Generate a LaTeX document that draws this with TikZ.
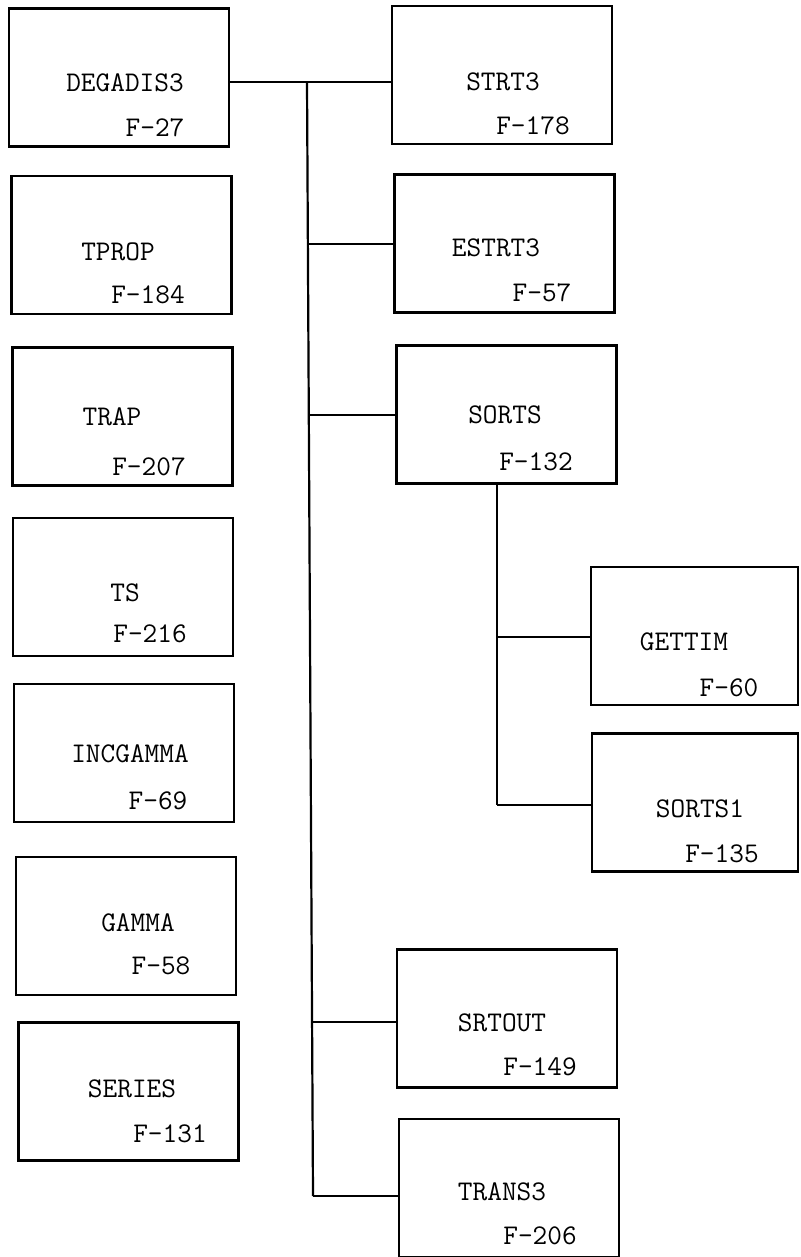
\documentclass[tikz,border=0pt]{standalone}
\usepackage{fontspec}
\usepackage{tikz}

\begin{document}
\begin{tikzpicture}[x=1pt,y=-1pt,
  rbox/.style={draw,line width=2.2pt,minimum width=220pt,minimum height=138pt,inner sep=0pt},
  lbl/.style={font=\ttfamily\fontsize{28.5}{34}\selectfont,inner sep=0pt},
  link/.style={line width=2.2pt}]
  \useasboundingbox (0,0) rectangle (800,1257);

  % Left column
  \node[rbox] (degadis) at (119,77.5) {};
  \node[lbl] (degadisN) at (125,83) {DEGADIS3};
  \node[lbl] (degadisF) at (155,128) {F-27};

  \node[rbox] (tprop) at (121.5,245) {};
  \node[lbl] (tpropN) at (118,252) {TPROP};
  \node[lbl] (tpropF) at (148,295) {F-184};

  \node[rbox] (trap) at (122.5,416.5) {};
  \node[lbl] (trapN) at (112,417) {TRAP};
  \node[lbl] (trapF) at (149,467) {F-207};

  \node[rbox] (ts) at (123,587) {};
  \node[lbl] (tsN) at (125,593) {TS};
  \node[lbl] (tsF) at (150,634) {F-216};

  \node[rbox] (incgamma) at (124,753) {};
  \node[lbl] (incgammaN) at (130,754) {INCGAMMA};
  \node[lbl] (incgammaF) at (158,801) {F-69};

  \node[rbox] (gamma) at (126,926) {};
  \node[lbl] (gammaN) at (138,923) {GAMMA};
  \node[lbl] (gammaF) at (161,966) {F-58};

  \node[rbox] (series) at (128.5,1091.5) {};
  \node[lbl] (seriesN) at (132,1089) {SERIES};
  \node[lbl] (seriesF) at (170,1134) {F-131};

  % Right column
  \node[rbox] (strt) at (502,75) {};
  \node[lbl] (strtN) at (503,82) {STRT3};
  \node[lbl] (strtF) at (533,126) {F-178};

  \node[rbox] (estrt) at (504.5,243.5) {};
  \node[lbl] (estrtN) at (496,248) {ESTRT3};
  \node[lbl] (estrtF) at (542,293) {F-57};

  \node[rbox] (sorts) at (506.5,414.5) {};
  \node[lbl] (sortsN) at (505,415) {SORTS};
  \node[lbl] (sortsF) at (536,462) {F-132};

  \node[rbox] (srtout) at (507,1018.5) {};
  \node[lbl] (srtoutN) at (502,1023) {SRTOUT};
  \node[lbl] (srtoutF) at (540,1067) {F-149};

  \node[rbox] (trans) at (509,1188) {};
  \node[lbl] (transN) at (502,1192) {TRANS3};
  \node[lbl] (transF) at (540,1236) {F-206};

  % Called from SORTS
  \node[rbox,minimum width=207pt] (gettim) at (694.5,636) {};
  \node[lbl] (gettimN) at (684,642) {GETTIM};
  \node[lbl] (gettimF) at (729,688) {F-60};

  \node[rbox,minimum width=206pt] (sortsone) at (695,802.5) {};
  \node[lbl] (sortsoneN) at (700,809) {SORTS1};
  \node[lbl] (sortsoneF) at (722,854) {F-135};

  % Connectors
  \coordinate (t0) at (307,82);
  \coordinate (t1) at (308,244);
  \coordinate (t2) at (308.5,415);
  \coordinate (t3) at (312,1022);
  \coordinate (t4) at (313,1196);
  \draw[link] (degadis.east |- t0) -- (strt.west |- t0);
  \draw[link] (t0) -- (t4);
  \draw[link] (t1) -- (estrt.west |- t1);
  \draw[link] (t2) -- (sorts.west |- t2);
  \draw[link] (t3) -- (srtout.west |- t3);
  \draw[link] (t4) -- (trans.west |- t4);

  \coordinate (s1) at (497,637);
  \coordinate (s2) at (497,805);
  \draw[link] (sorts.south -| s1) -- (s2);
  \draw[link] (s1) -- (gettim.west |- s1);
  \draw[link] (s2) -- (sortsone.west |- s2);
\end{tikzpicture}
\end{document}
